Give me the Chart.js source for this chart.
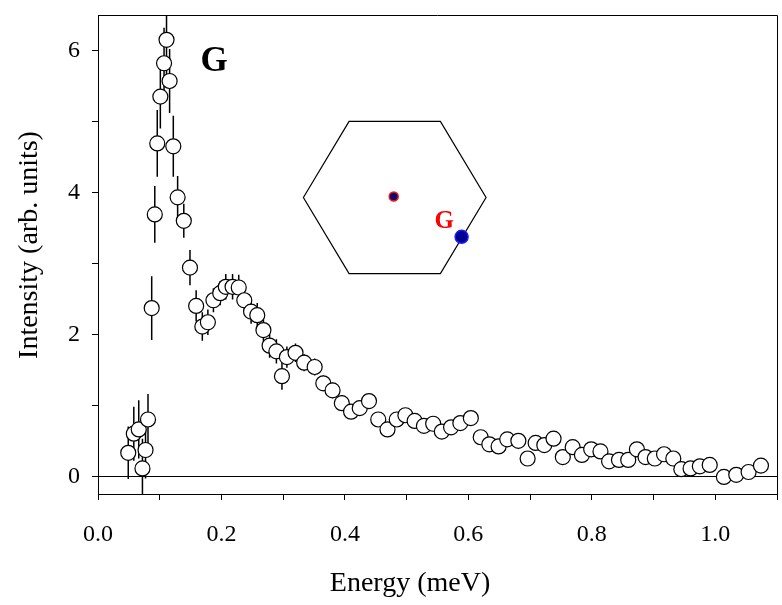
<!DOCTYPE html>
<html>
<head>
<meta charset="utf-8">
<script src="https://cdn.jsdelivr.net/npm/chart.js@4/dist/chart.umd.min.js"></script>
<style>
  body { margin: 0; background: #fff; }
  #wrap { width: 782px; height: 605px; }
</style>
</head>
<body>
<div id="wrap"><canvas id="spectrumChart"></canvas></div>
<script>
// energy (meV), intensity (arb. units) and its error bar
const energy = [
  0.049, 0.058, 0.066, 0.072, 0.077, 0.081, 0.087, 0.092, 0.096, 0.101,
  0.107, 0.111, 0.116, 0.122, 0.129, 0.139, 0.149, 0.159, 0.169, 0.178,
  0.187, 0.198, 0.207, 0.218, 0.228, 0.237, 0.248, 0.258, 0.268, 0.278,
  0.289, 0.298, 0.306, 0.320, 0.334, 0.351, 0.365, 0.380, 0.395, 0.410,
  0.424, 0.439, 0.454, 0.469, 0.484, 0.498, 0.513, 0.528, 0.543, 0.557,
  0.572, 0.587, 0.604, 0.620, 0.634, 0.649, 0.663, 0.681, 0.696, 0.709,
  0.723, 0.738, 0.753, 0.769, 0.784, 0.799, 0.814, 0.828, 0.844, 0.859,
  0.873, 0.887, 0.902, 0.917, 0.932, 0.945, 0.960, 0.975, 0.991, 1.014,
  1.034, 1.054, 1.074
];
const intensity = [
  0.33, 0.60, 0.66, 0.11, 0.37, 0.80, 2.37, 3.69, 4.69, 5.35,
  5.82, 6.15, 5.57, 4.65, 3.93, 3.60, 2.94, 2.40, 2.11, 2.17,
  2.48, 2.58, 2.67, 2.67, 2.66, 2.48, 2.32, 2.27, 2.06, 1.84,
  1.76, 1.41, 1.68, 1.74, 1.60, 1.54, 1.31, 1.21, 1.03, 0.91,
  0.96, 1.06, 0.80, 0.66, 0.80, 0.86, 0.78, 0.71, 0.74, 0.63,
  0.69, 0.75, 0.82, 0.55, 0.45, 0.42, 0.52, 0.50, 0.25, 0.47,
  0.44, 0.53, 0.27, 0.41, 0.30, 0.38, 0.35, 0.21, 0.23, 0.23,
  0.38, 0.27, 0.25, 0.31, 0.25, 0.10, 0.11, 0.14, 0.16, -0.01,
  0.02, 0.06, 0.15
];
const errors = [
  0.37, 0.38, 0.41, 0.42, 0.40, 0.36, 0.45, 0.40, 0.47, 0.45,
  0.50, 0.50, 0.45, 0.43, 0.30, 0.24, 0.25, 0.22, 0.20, 0.18,
  0.17, 0.17, 0.18, 0.18, 0.18, 0.17, 0.17, 0.17, 0.17, 0.17,
  0.17, 0.19, 0.15, 0.13, 0.12, 0.12, 0.11, 0.11, 0.11, 0.10,
  0.10, 0.10, 0.10, 0.10, 0.10, 0.10, 0.10, 0.10, 0.10, 0.10,
  0.10, 0.10, 0.10, 0.10, 0.10, 0.10, 0.10, 0.10, 0.10, 0.10,
  0.10, 0.10, 0.10, 0.10, 0.10, 0.10, 0.10, 0.10, 0.10, 0.10,
  0.10, 0.10, 0.10, 0.10, 0.10, 0.10, 0.10, 0.10, 0.10, 0.10,
  0.10, 0.10, 0.10
];
const xTickLabels = ['0.0', '0.2', '0.4', '0.6', '0.8', '1.0'];
const yTickLabels = ['0', '2', '4', '6'];

const serif = "'Liberation Serif', 'Times New Roman', serif";

// vertical error bars, drawn under the open circles
const errorBars = {
  id: 'errorBars',
  beforeDatasetsDraw(chart) {
    const { ctx, chartArea: a, scales: { x, y } } = chart;
    ctx.save();
    ctx.beginPath();
    ctx.rect(a.left, a.top, a.right - a.left, a.bottom - a.top);
    ctx.clip();
    ctx.strokeStyle = '#000';
    ctx.lineWidth = 1.5;
    ctx.beginPath();
    for (let i = 0; i < energy.length; i++) {
      const px = x.getPixelForValue(energy[i]);
      ctx.moveTo(px, y.getPixelForValue(intensity[i] - errors[i]));
      ctx.lineTo(px, y.getPixelForValue(intensity[i] + errors[i]));
    }
    ctx.stroke();
    ctx.restore();
  }
};

// frame, axis titles, panel letter and the Brillouin-zone inset
const decorations = {
  id: 'decorations',
  afterDraw(chart) {
    const { ctx, chartArea: a } = chart;
    const w = a.right - a.left, h = a.bottom - a.top;
    const px = f => a.left + f * w;
    const py = f => a.top + f * h;
    ctx.save();
    ctx.strokeStyle = '#000';
    ctx.lineWidth = 1;
    ctx.beginPath();
    ctx.moveTo(a.left, a.top + 0.5);
    ctx.lineTo(a.right + 0.5, a.top + 0.5);
    ctx.lineTo(a.right + 0.5, a.bottom);
    ctx.stroke();

    ctx.fillStyle = '#000';
    ctx.font = '28px ' + serif;
    ctx.textAlign = 'center';
    ctx.textBaseline = 'alphabetic';
    ctx.fillText('Energy (meV)', 410, 591);
    ctx.save();
    ctx.translate(37, 245);
    ctx.rotate(-Math.PI / 2);
    ctx.fillText('Intensity (arb. units)', 0, 0);
    ctx.restore();

    ctx.font = 'bold 35px ' + serif;
    ctx.textBaseline = 'middle';
    ctx.fillText('G', px(0.171), py(0.099));

    // hexagon
    const cx = px(0.437), cy = py(0.381), rx = 0.1345 * w, ry = 0.159 * h;
    ctx.lineWidth = 1.2;
    ctx.beginPath();
    ctx.moveTo(cx - rx, cy);
    ctx.lineTo(cx - rx / 2, cy - ry);
    ctx.lineTo(cx + rx / 2, cy - ry);
    ctx.lineTo(cx + rx, cy);
    ctx.lineTo(cx + rx / 2, cy + ry);
    ctx.lineTo(cx - rx / 2, cy + ry);
    ctx.closePath();
    ctx.stroke();

    ctx.beginPath();
    ctx.arc(cx - 1, cy - 1, 4.5, 0, Math.PI * 2);
    ctx.fillStyle = '#0a0a70';
    ctx.fill();
    ctx.strokeStyle = '#ff1010';
    ctx.lineWidth = 1.5;
    ctx.stroke();

    ctx.beginPath();
    ctx.arc(px(0.5355), py(0.463), 6.5, 0, Math.PI * 2);
    ctx.fillStyle = '#000090';
    ctx.fill();
    ctx.strokeStyle = '#1a1aff';
    ctx.lineWidth = 1.5;
    ctx.stroke();

    ctx.fillStyle = '#ff0000';
    ctx.font = 'bold 25px ' + serif;
    ctx.fillText('G', px(0.510), py(0.432));
    ctx.restore();
  }
};

function noEdgePadding(scale) {
  scale.paddingTop = 0;
  scale.paddingBottom = 0;
  scale.paddingLeft = 0;
  scale.paddingRight = 0;
}

document.addEventListener('DOMContentLoaded', function () {
  const ctx = document.getElementById('spectrumChart').getContext('2d');
  const points = energy.map((e, i) => ({ x: e, y: intensity[i] }));

  new Chart(ctx, {
    type: 'scatter',
    data: {
      datasets: [{
        data: points,
        pointRadius: 7.5,
        pointBackgroundColor: '#fff',
        pointBorderColor: '#000',
        pointBorderWidth: 1.2,
        showLine: false
      }]
    },
    options: {
      responsive: true,
      maintainAspectRatio: false,
      animation: false,
      layout: { autoPadding: false, padding: { left: 0, right: 5, top: 15, bottom: 0 } },
      plugins: { legend: { display: false }, tooltip: { enabled: false } },
      scales: {
        x: {
          type: 'linear',
          min: 0,
          max: 1.1,
          afterFit(scale) { scale.height = 111; noEdgePadding(scale); },
          border: { display: true, color: '#000', width: 1 },
          grid: { drawOnChartArea: false, tickLength: 6, tickColor: '#000', tickWidth: 1 },
          ticks: {
            stepSize: 0.1,
            includeBounds: false,
            padding: 20,
            color: '#000',
            font: { family: serif, size: 24 },
            maxRotation: 0,
            autoSkip: false,
            callback: v => {
              const k = Math.round(v * 10);
              return k % 2 === 0 ? xTickLabels[k / 2] || '' : '';
            }
          }
        },
        y: {
          min: -0.25,
          max: 6.5,
          afterFit(scale) { scale.width = 98; noEdgePadding(scale); },
          border: { display: true, color: '#000', width: 1 },
          grid: {
            drawOnChartArea: true,
            color: c => (c.tick && c.tick.value === 0 ? '#000' : 'rgba(0,0,0,0)'),
            lineWidth: 1,
            tickLength: 6,
            tickColor: '#000',
            tickWidth: 1
          },
          ticks: {
            stepSize: 1,
            includeBounds: false,
            padding: 12,
            color: '#000',
            font: { family: serif, size: 24 },
            autoSkip: false,
            callback: v => (v % 2 === 0 ? yTickLabels[v / 2] || '' : '')
          }
        }
      }
    },
    plugins: [errorBars, decorations]
  });
});
</script>
</body>
</html>
